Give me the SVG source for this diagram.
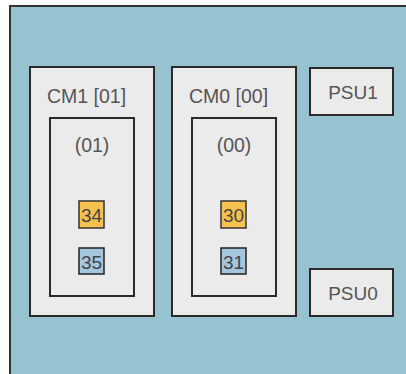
<svg xmlns="http://www.w3.org/2000/svg" width="406" height="374" viewBox="0 0 406 374">
<style>
.box{fill:#ebebeb;stroke:#2a2a2a;stroke-width:2}
.lbl{font-family:"Liberation Sans",Arial,sans-serif;font-size:19.5px;fill:#555}
.mid{text-anchor:middle}
.y{fill:#f6c24f;stroke:#333;stroke-width:1.5}
.b{fill:#a6c6de;stroke:#222;stroke-width:1.5}
.num{font-family:"Liberation Sans",Arial,sans-serif;font-size:19px;fill:#444;text-anchor:middle}
</style>
<rect width="406" height="374" fill="#ffffff"/>
<rect x="10" y="6" width="420" height="400" fill="#97c3d1" stroke="#333" stroke-width="2"/>
<g id="cm1">
<rect class="box" x="30" y="67" width="124" height="249"/>
<text class="lbl" x="47" y="103">CM1 [01]</text>
<rect class="box" x="50" y="118" width="84" height="178"/>
<text class="lbl mid" x="92" y="152">(01)</text>
</g>
<g id="cm0">
<rect class="box" x="172" y="67" width="124" height="249"/>
<text class="lbl" x="189" y="103">CM0 [00]</text>
<rect class="box" x="192" y="118" width="84" height="178"/>
<text class="lbl mid" x="234" y="152">(00)</text>
</g>
<g id="b34"><rect class="y" x="79" y="201" width="25" height="27"/><text class="num" x="91.5" y="222">34</text></g>
<g id="b35"><rect class="b" x="79" y="248" width="25" height="26"/><text class="num" x="91.5" y="269">35</text></g>
<g id="b30"><rect class="y" x="221" y="201" width="25" height="27"/><text class="num" x="233.5" y="222">30</text></g>
<g id="b31"><rect class="b" x="221" y="248" width="25" height="26"/><text class="num" x="233.5" y="269">31</text></g>
<g id="psu1">
<rect class="box" x="310" y="68" width="83" height="47"/>
<text class="lbl mid" x="353" y="99" style="font-size:19px">PSU1</text>
</g>
<g id="psu0">
<rect class="box" x="310" y="269" width="83" height="47"/>
<text class="lbl mid" x="353" y="300" style="font-size:19px">PSU0</text>
</g>
<g id="connectors"></g>
</svg>
